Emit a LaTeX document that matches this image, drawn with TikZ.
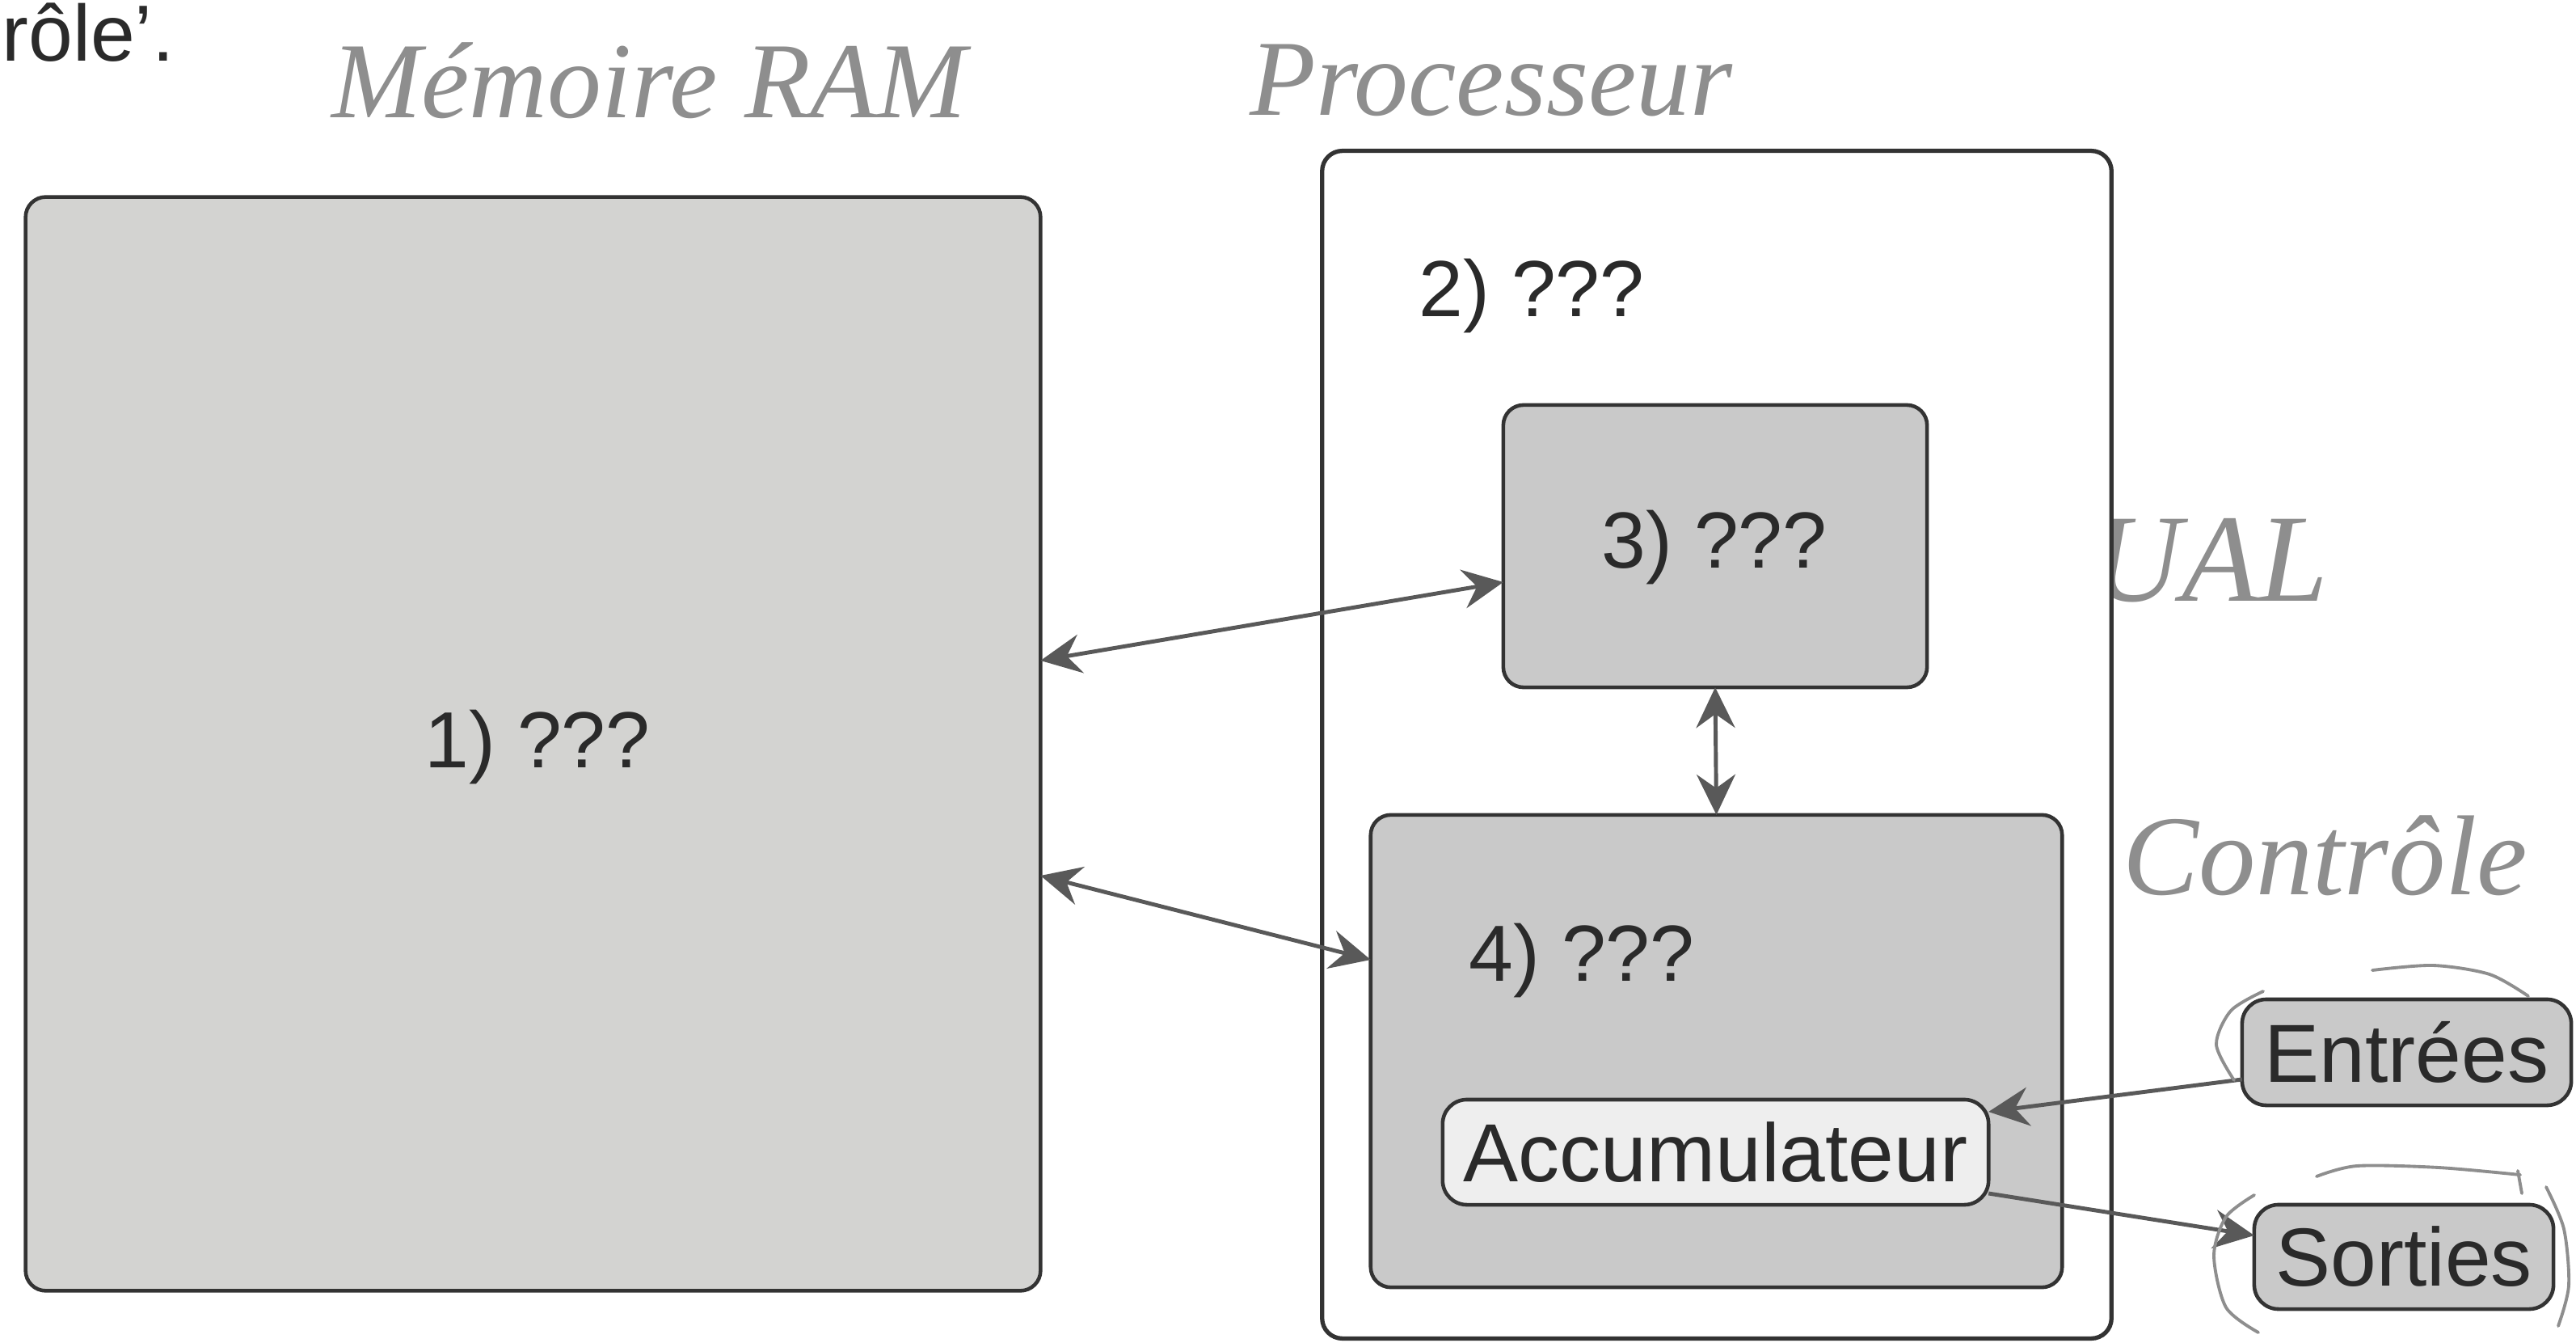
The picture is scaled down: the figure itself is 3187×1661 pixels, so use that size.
\documentclass[tikz,border=0pt]{standalone}
\usepackage{fontspec}
\setmainfont{Liberation Sans}
\newfontfamily\handfont{Liberation Serif}
\usetikzlibrary{arrows.meta}
\definecolor{edgec}{HTML}{333333}
\definecolor{arrowc}{HTML}{595959}
\definecolor{txtc}{HTML}{2A2A2A}
\definecolor{handc}{HTML}{8E8E8E}
\definecolor{memfill}{HTML}{D3D3D1}
\definecolor{unitfill}{HTML}{C9C9C9}
\definecolor{accfill}{HTML}{EEEEEE}
\begin{document}
\begin{tikzpicture}[x=0.01cm,y=-0.01cm,
  box/.style={draw=edgec, line width=1.3pt, rounded corners=0.25cm, inner sep=0pt, outer sep=0pt},
  pill/.style={box, rounded corners=0.3cm},
  lbl/.style={inner sep=0pt, text=txtc, font=\fontsize{28}{32}\selectfont},
  conn/.style={draw=arrowc, line width=1.4pt,
    {Stealth[length=0.5cm,width=0.48cm,inset=0.17cm]}-{Stealth[length=0.5cm,width=0.48cm,inset=0.17cm]}},
  oneway/.style={draw=arrowc, line width=1.4pt,
    -{Stealth[length=0.5cm,width=0.48cm,inset=0.17cm]}},
  hand/.style={inner sep=0pt, text=handc, font=\handfont\itshape\fontsize{38}{40}\selectfont},
  scribble/.style={draw=handc, line width=1.1pt, line cap=round}]
\useasboundingbox (0,0) rectangle (3187,1661);
\fill[white] (0,0) rectangle (3187,1661);

% top text fragment
\node[lbl, anchor=base west] (frag) at (2,76) {rôle'.};

% handwritten annotations
\node[hand] (hmem) at (803,100) {Mémoire RAM};
\node[hand] (hproc) at (1845,100) {Processeur};
\node[hand, font=\handfont\itshape\fontsize{44}{46}\selectfont] (hual) at (2734,693) {UAL};
\node[hand, font=\handfont\itshape\fontsize{40}{42}\selectfont] (hctl) at (2877,1058) {Contrôle};

% boxes
\node[box, fill=memfill, minimum width=12.55cm, minimum height=13.52cm] (b1) at (659.5,920) {};
\node[box, fill=white, line width=1.5pt, minimum width=9.76cm, minimum height=14.68cm] (b2) at (2124,921) {};
\node[box, fill=unitfill, minimum width=5.24cm, minimum height=3.49cm] (b3) at (2122,675.5) {};
\node[box, fill=unitfill, minimum width=8.55cm, minimum height=5.84cm] (b4) at (2123.5,1300) {};
\node[pill, fill=accfill, minimum width=6.75cm, minimum height=1.30cm] (acc) at (2122.5,1425) {};
\node[pill, fill=unitfill, minimum width=4.07cm, minimum height=1.31cm] (ent) at (2977.5,1301.5) {};
\node[pill, fill=unitfill, minimum width=3.70cm, minimum height=1.29cm] (sor) at (2974,1554.5) {};

% labels
\node[lbl] (t1) at (665,924) {1) ???};
\node[lbl] (t2) at (1895,366) {2) ???};
\node[lbl] (t3) at (2121,677) {3) ???};
\node[lbl] (t4) at (1957,1188) {4) ???};
\node[lbl, font=\fontsize{29}{32}\selectfont] (tacc) at (acc.center) {Accumulateur};
\node[lbl, font=\fontsize{29}{32}\selectfont] (tent) at (ent.center) {Entrées};
\node[lbl, font=\fontsize{29}{32}\selectfont] (tsor) at (sor.center) {Sorties};

% connectors
\draw[conn] (b1.east |- 0,817) -- (b3.west |- 0,720);
\draw[conn] (b1.east |- 0,1083) -- (b4.west |- 0,1187);
\draw[conn] (b3.south) -- (b4.north);
\draw[oneway] (ent.west |- 0,1335) -- (acc.east |- 0,1375);
\draw[oneway] (acc.east |- 0,1476) -- (sor.west |- 0,1528);

% hand-drawn circles around Entrées and Sorties
\draw[scribble] plot[smooth] coordinates {(2800,1226) (2760,1250) (2742,1292) (2764,1336)};
\draw[scribble] plot[smooth] coordinates {(2935,1200) (3010,1194) (3080,1205) (3128,1232)};
\draw[scribble] plot[smooth] coordinates {(2866,1455) (2916,1442) (3017,1444) (3118,1453)};
\draw[scribble] (3115,1448) -- (3120,1476);
\draw[scribble] plot[smooth] coordinates {(2789,1478) (2754,1505) (2739,1553) (2754,1617) (2794,1648)};
\draw[scribble] plot[smooth] coordinates {(3150,1468) (3172,1520) (3178,1590) (3165,1640)};
\end{tikzpicture}
\end{document}
